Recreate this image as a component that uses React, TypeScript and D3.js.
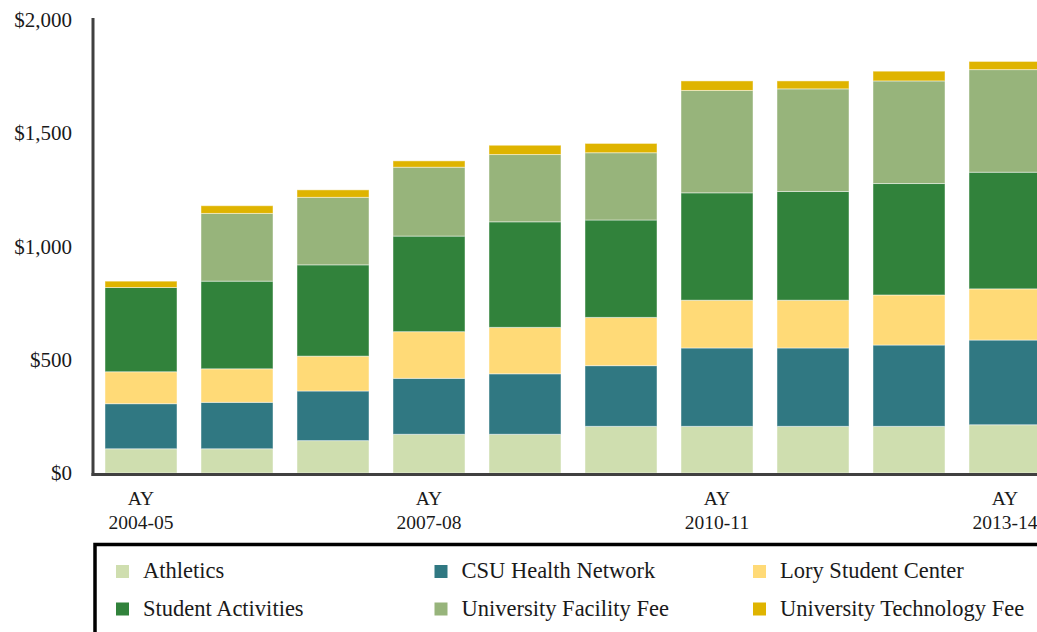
import React from "react";
import * as d3 from "d3";

const years = ["2004-05","2005-06","2006-07","2007-08","2008-09","2009-10","2010-11","2011-12","2012-13","2013-14"];
const seriesNames = ["Athletics","CSU Health Network","Lory Student Center","Student Activities","University Facility Fee","University Technology Fee"];
const athletics = [107,107,143,171,171,206,206,206,206,213];
const csuHealth = [199,205,219,247,267,268,346,346,359,374];
const lory = [141,148,154,206,205,213,211,211,221,226];
const studentActivities = [372,387,403,422,466,430,474,480,492,515];
const facilityFee = [0,299,298,304,297,297,452,453,453,453];
const techFee = [28,34,33,28,41,41,42,35,43,36];
const colors = ["#CFDEAF","#307882","#FFDA77","#31823B","#97B47B","#DFB400"];
const yTicks = [0,500,1000,1500,2000];
const labeledYears = ["2004-05","2007-08","2010-11","2013-14"];

const W = 1037, H = 632;
const FONT = "'Liberation Serif', 'Times New Roman', serif";

export default function App() {
  const allSeries = [athletics, csuHealth, lory, studentActivities, facilityFee, techFee];
  const rows = years.map((y, i) => {
    const r: any = { year: y };
    seriesNames.forEach((n, k) => (r[n] = allSeries[k][i]));
    return r;
  });
  const stack = d3.stack<any>().keys(seriesNames)(rows);
  const x = d3.scaleBand().domain(years).range([93, 1053]).paddingInner(0.25).paddingOuter(0.125);
  const y = d3.scaleLinear().domain([0, 2000]).range([473, 20]);
  const fmt = (v: number) => "$" + d3.format(",")(v);

  return (
    <svg width={W} height={H} style={{ position: "absolute", left: 0, top: 0, display: "block" }}>
      <rect x={0} y={0} width={W} height={H} fill="#fff" />
      {stack.map((s, k) => (
        <g key={s.key} fill={colors[k]}>
          {s.map((d, i) =>
            d[1] - d[0] > 0 ? (
              <rect
                key={i}
                x={x(years[i])!}
                y={y(d[1])}
                width={x.bandwidth()}
                height={y(d[0]) - y(d[1])}
                stroke="rgba(255,255,255,0.45)"
                strokeWidth={1}
              />
            ) : null
          )}
        </g>
      ))}
      <line x1={93} x2={93} y1={18} y2={476} stroke="#404040" strokeWidth={3} />
      <line x1={91.5} x2={W} y1={474.5} y2={474.5} stroke="#404040" strokeWidth={3} />
      {yTicks.map((t) => (
        <text key={t} x={72} y={y(t)} textAnchor="end" dominantBaseline="central" fontFamily={FONT} fontSize={21} fill="#1a1a1a">
          {fmt(t)}
        </text>
      ))}
      {labeledYears.map((yr) => {
        const cx = x(yr)! + x.bandwidth() / 2;
        return (
          <g key={yr} fontFamily={FONT} fontSize={19.5} fill="#1a1a1a" textAnchor="middle">
            <text x={cx} y={505}>AY</text>
            <text x={cx} y={529}>{yr}</text>
          </g>
        );
      })}
      <rect x={95} y={544.5} width={1000} height={200} fill="none" stroke="#000" strokeWidth={3.5} />
      {seriesNames.map((n, k) => {
        const col = k % 3, row = Math.floor(k / 3);
        const tx = 143 + col * 318.5;
        const ty = 578 + row * 37.5;
        return (
          <g key={n}>
            <rect x={tx - 27} y={ty - 13} width={13} height={13} fill={colors[k]} />
            <text x={tx} y={ty} fontFamily={FONT} fontSize={22.5} fill="#1a1a1a">{n}</text>
          </g>
        );
      })}
    </svg>
  );
}
